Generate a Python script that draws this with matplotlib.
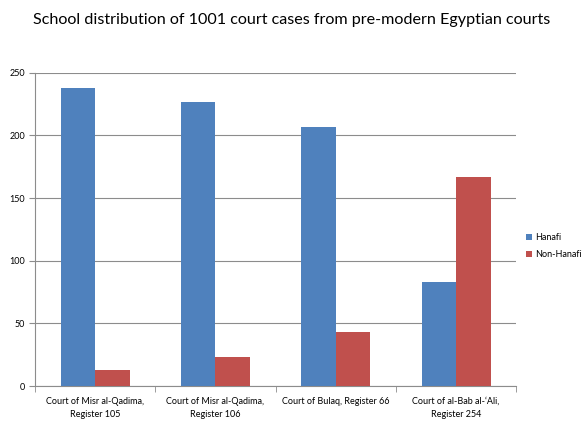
import matplotlib
matplotlib.use("Agg")
import matplotlib.pyplot as plt
import numpy as np

categories = ["Court of Misr al-Qadima,\nRegister 105",
              "Court of Misr al-Qadima,\nRegister 106",
              "Court of Bulaq, Register 66",
              "Court of al-Bab al-\u2018Ali,\nRegister 254"]
hanafi = [238, 227, 207, 83]
non_hanafi = [13, 23, 43, 167]
series_names = ["Hanafi", "Non-Hanafi"]
yticks = [0, 50, 100, 150, 200, 250]

plt.rcParams['font.family'] = ['Lato', 'DejaVu Sans']

fig = plt.figure(figsize=(5.84, 4.21), dpi=100)
ax = fig.add_axes([0.06, 0.083, 0.824, 0.744])

x = np.arange(len(categories))
w = 0.286
ax.bar(x - w/2, hanafi, w, color="#4F81BD", label=series_names[0], zorder=3)
ax.bar(x + w/2, non_hanafi, w, color="#C0504D", label=series_names[1], zorder=3)

ax.set_xlim(-0.5, len(categories) - 0.5)
ax.set_ylim(0, 250)
ax.set_yticks(yticks)
ax.set_yticklabels([str(v) for v in yticks], fontsize=6.5)
ax.yaxis.grid(True, color="#8c8c8c", linewidth=0.8, zorder=0)
ax.set_xticks(x)
ax.set_xticklabels(categories, fontsize=6.5, linespacing=1.6)
ax.tick_params(axis='x', length=0, pad=8)
ax.set_xticks(np.arange(-0.5, len(categories), 1), minor=True)
ax.tick_params(axis='x', which='minor', length=4, color="#8c8c8c")
ax.tick_params(axis='y', length=4, color="#8c8c8c", pad=3)
for s in ["top", "right"]:
    ax.spines[s].set_visible(False)
for s in ["left", "bottom"]:
    ax.spines[s].set_color("#8c8c8c")
    ax.spines[s].set_linewidth(0.8)

fig.text(0.5, 0.952, "School distribution of 1001 court cases from pre-modern Egyptian courts",
         ha="center", va="center", fontsize=11.6)

ax.legend(loc="center left", bbox_to_anchor=(1.003, 0.447), frameon=False, fontsize=6.5,
          handlelength=0.7, handleheight=0.7, handletextpad=0.3, labelspacing=0.9)

fig.savefig("out.png", dpi=100)
